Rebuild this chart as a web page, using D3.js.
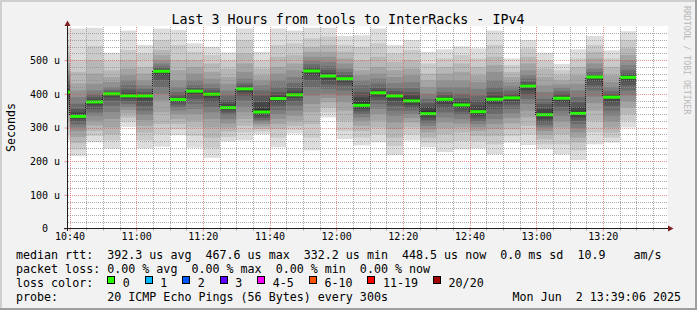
<!DOCTYPE html>
<html>
<head>
<meta charset="utf-8">
<script src="https://cdn.jsdelivr.net/npm/d3@7"></script>
<style>
html, body { margin: 0; padding: 0; background: #f2f2f2; }
svg { display: block; font-family: "DejaVu Sans Mono", monospace; }
.pre { white-space: pre; }
</style>
</head>
<body>
<svg id="chart" width="697" height="310"></svg>
<script>
// smokeping style graph, 3 hours, 20 pings every 5 min

var title = "Last 3 Hours from tools to InterRacks - IPv4";

// end time of each 5 minute slot
var slotEnds = ["10:40","10:45","10:50","10:55","11:00","11:05","11:10","11:15","11:20","11:25",
  "11:30","11:35","11:40","11:45","11:50","11:55","12:00","12:05","12:10","12:15",
  "12:20","12:25","12:30","12:35","12:40","12:45","12:50","12:55","13:00","13:05",
  "13:10","13:15","13:20","13:25","13:30"];

// median rtt per slot (microseconds)
var medians = [405,333,376,400,394,394,467,383,408,399,359,415,346,386,397,468,453,445,
  366,403,394,379,341,384,367,347,384,388,423,338,387,342,450,390,449];

// the 20 sorted pings per slot (microseconds)
var pings = [
  [262,280,300,320,340,355,370,385,395,402,408,415,425,440,455,470,490,515,545,596],
  [215,235,254,272,289,300,309,318,326,332,336,345,355,370,390,410,431,465,501,594],
  [256,275,290,306,320,335,345,355,366,373,378,383,390,398,410,430,460,500,542,596],
  [237,262,280,300,326,346,365,380,390,398,401,403,407,412,420,435,450,470,500,522],
  [302,318,330,342,352,362,370,378,386,392,397,402,412,425,440,455,475,500,530,588],
  [238,262,285,305,322,338,350,365,380,392,395,398,405,415,425,440,460,480,520,545],
  [243,280,310,345,380,400,420,440,455,466,468,471,476,482,490,500,515,530,560,594],
  [277,295,310,325,340,350,360,368,376,381,385,388,395,405,420,440,470,500,545,590],
  [240,275,300,320,340,355,370,385,398,406,409,412,418,425,440,460,480,500,525,550],
  [210,240,270,300,325,345,360,375,388,397,401,404,410,418,430,445,465,490,515,540],
  [258,272,288,300,312,325,337,345,352,357,362,370,380,395,410,430,450,475,500,523],
  [262,285,305,325,345,362,380,395,405,413,417,420,425,432,445,465,490,520,560,594],
  [280,288,296,303,310,316,322,328,335,343,355,375,395,410,425,440,455,475,500,525],
  [241,270,295,310,325,340,352,365,375,384,389,395,405,420,440,460,480,510,545,594],
  [282,293,305,320,335,350,365,378,388,395,400,408,418,432,450,470,490,515,550,588],
  [232,270,310,345,370,395,420,440,455,466,470,474,480,488,498,510,525,540,565,596],
  [330,345,360,375,388,400,415,428,440,450,456,462,470,482,495,510,525,545,570,596],
  [266,290,320,350,375,395,410,425,435,443,447,450,457,465,475,490,505,525,545,572],
  [247,270,290,305,320,330,340,348,355,362,375,390,405,425,440,455,470,500,540,574],
  [256,280,300,320,340,355,370,382,392,401,405,410,418,430,445,460,480,510,550,594],
  [218,245,270,295,315,335,350,365,380,392,396,400,408,418,432,450,470,495,520,545],
  [261,280,300,315,328,340,350,358,367,375,385,395,405,418,435,455,475,500,530,560],
  [241,255,270,285,295,305,314,322,330,338,350,360,372,385,400,420,440,460,490,525],
  [227,255,280,298,315,330,345,358,370,382,386,390,396,405,420,440,460,480,505,532],
  [235,260,285,300,312,325,337,347,357,365,370,377,387,400,420,440,465,490,515,541],
  [238,258,275,290,300,310,318,327,335,343,352,365,380,395,415,435,455,480,505,535],
  [220,250,275,295,310,325,340,355,370,381,387,393,405,420,440,465,485,510,545,588],
  [255,275,295,312,328,342,355,368,378,386,390,394,400,410,422,435,450,465,485,505],
  [248,280,305,330,350,370,385,398,410,421,425,428,435,445,455,470,490,510,535,560],
  [235,250,265,278,290,300,307,316,325,335,343,355,370,385,405,425,450,475,500,522],
  [220,250,280,300,318,335,350,362,375,385,390,394,400,408,418,428,440,455,470,489],
  [203,232,255,270,285,298,310,320,330,338,348,360,375,390,410,430,455,480,505,532],
  [250,285,320,350,372,392,410,425,438,448,452,454,458,465,475,490,505,525,545,572],
  [255,270,285,300,318,335,350,365,378,388,392,395,400,408,420,435,455,480,505,529],
  [300,320,340,360,378,395,410,425,438,447,451,455,460,470,485,500,515,535,560,586]
];

var yTicks = [0,100,200,300,400,500];
var xTicks = ["10:40","11:00","11:20","11:40","12:00","12:20","12:40","13:00","13:20"];

var lossLabels = ["0","1","2","3","4-5","6-10","11-19","20/20"];
var lossColors = ["#26ff00","#00b8ff","#0059ff","#5e00ff","#ff00ff","#ff5500","#ff0000","#a10000"];

var legendRtt  = "median rtt:  392.3 us avg  467.6 us max  332.2 us min  448.5 us now  0.0 ms sd  10.9    am/s";
var legendLoss = "packet loss: 0.00 % avg  0.00 % max  0.00 % min  0.00 % now";
var legendProbe = "probe:       20 ICMP Echo Pings (56 Bytes) every 300s";
var stamp = "Mon Jun  2 13:39:06 2025";

(function(){

var W = 697, H = 310;
var pLeft = 67.5, pRight = 667.5, pTop = 26.5, pBottom = 228.5;
var CW = 7.02; // legend char width

// rrdtool default colours
var GRID = "rgb(143,143,143)", GRID_A = 0.75;
var MGRID = "rgb(222,79,79)", MGRID_A = 0.6;
var ARROW = "rgb(128,31,31)", AXIS = "rgb(31,31,31)";

var svg = d3.select("#chart");
var parseT = d3.timeParse("%H:%M:%S");
var parseHM = d3.timeParse("%H:%M");
var t0 = parseT("10:39:24"), t1 = parseT("13:39:24");

var x = d3.scaleTime().domain([t0, t1]).range([pLeft, pRight]);
var y = d3.scaleLinear().domain([0, 600]).range([pBottom, pTop]);

// frame
svg.append("rect").attr("width", W).attr("height", H).attr("fill", "#f2f2f2");
svg.append("path").attr("d", "M0,1H697M1,0V310").attr("stroke", "#cfcfcf").attr("stroke-width", 2);
svg.append("path").attr("d", "M0,309H697M696,0V310").attr("stroke", "#9e9e9e").attr("stroke-width", 2);

svg.append("rect")
  .attr("x", 67).attr("y", 26).attr("width", 601).attr("height", 203)
  .attr("fill", "#ffffff");

svg.append("clipPath").attr("id", "plotclip")
  .append("rect").attr("x", 67).attr("y", 26).attr("width", 601).attr("height", 203);

var plot = svg.append("g").attr("clip-path", "url(#plotclip)");

// smoke: band k spans ping k .. ping 19-k, darker toward the middle
var slots = slotEnds.map(function(s, i){
  var e = parseHM(s);
  return {
    x0: Math.round(x(d3.timeMinute.offset(e, -5))),
    x1: Math.round(x(e)),
    p: pings[i],
    m: medians[i]
  };
});

var half = 10;
slots.forEach(function(s){
  for (var k = 0; k < half; k++){
    var g = Math.floor(190 / half * (half - (k + 1))) + 50;
    plot.append("rect")
      .attr("x", s.x0).attr("width", s.x1 - s.x0)
      .attr("y", y(s.p[19 - k]))
      .attr("height", y(s.p[k]) - y(s.p[19 - k]))
      .attr("fill", d3.rgb(g, g, g));
  }
});

// grid, dotted on whole pixels
var minorX = d3.timeMinute.every(5).range(t0, t1).filter(function(d){ return d.getMinutes() % 20 != 0; });
var majorX = xTicks.map(parseHM);
var minorY = d3.range(20, 600, 20).filter(function(v){ return v % 100 != 0; });
var majorY = yTicks.filter(function(v){ return v > 0; });

var px = function(d){ return Math.round(x(d)) + 0.5; };
var py = function(d){ return Math.round(y(d)) + 0.5; };

var grid = svg.append("g").attr("fill", "none")
  .attr("stroke-dasharray", "1,1").attr("shape-rendering", "crispEdges");
grid.selectAll(".gx").data(minorX).enter().append("line")
  .attr("x1", px).attr("x2", px)
  .attr("y1", 27).attr("y2", 228)
  .attr("stroke", GRID).attr("stroke-opacity", GRID_A);
grid.selectAll(".gy").data(minorY).enter().append("line")
  .attr("x1", 68).attr("x2", 668)
  .attr("y1", py).attr("y2", py)
  .attr("stroke", GRID).attr("stroke-opacity", GRID_A);
grid.selectAll(".mx").data(majorX).enter().append("line")
  .attr("x1", px).attr("x2", px)
  .attr("y1", 27).attr("y2", 228)
  .attr("stroke", MGRID).attr("stroke-opacity", MGRID_A);
grid.selectAll(".my").data(majorY).enter().append("line")
  .attr("x1", 68).attr("x2", 668)
  .attr("y1", py).attr("y2", py)
  .attr("stroke", MGRID).attr("stroke-opacity", MGRID_A);

// median: dark step connectors, then the loss coloured band
for (var i = 1; i < slots.length; i++){
  plot.append("line")
    .attr("x1", slots[i].x0 - 0.5).attr("x2", slots[i].x0 - 0.5)
    .attr("y1", Math.round(y(slots[i - 1].m))).attr("y2", Math.round(y(slots[i].m)))
    .attr("stroke", "#202020").attr("stroke-dasharray", "1,1");
}
slots.forEach(function(s){
  plot.append("rect")
    .attr("x", s.x0).attr("width", s.x1 - s.x0)
    .attr("y", y(s.m) - 1.5).attr("height", 3)
    .attr("fill", lossColors[0]);
});

// axes
var xAxis = svg.append("g")
  .attr("transform", "translate(0," + pBottom + ")")
  .call(d3.axisBottom(x).tickValues(majorX).tickFormat(d3.timeFormat("%H:%M"))
        .tickSize(3).tickPadding(1));
xAxis.select(".domain").remove();
xAxis.selectAll("line").attr("stroke", MGRID).attr("stroke-opacity", MGRID_A);
xAxis.selectAll("text").attr("font-family", "DejaVu Sans Mono").attr("font-size", 10).attr("fill", "#000");

svg.append("g").selectAll("line").data(minorX).enter().append("line")
  .attr("x1", px).attr("x2", px)
  .attr("y1", pBottom).attr("y2", pBottom + 2)
  .attr("stroke", GRID).attr("stroke-opacity", GRID_A);

var yAxis = svg.append("g")
  .attr("transform", "translate(" + pLeft + ",0)")
  .call(d3.axisLeft(y).tickValues(yTicks)
        .tickFormat(function(v){ return v == 0 ? "  0  " : v + " u"; })
        .tickSize(3));
yAxis.select(".domain").remove();
yAxis.selectAll("line").attr("stroke", MGRID).attr("stroke-opacity", MGRID_A);
yAxis.selectAll("text")
  .attr("class", "pre")
  .attr("x", 30 - pLeft)
  .attr("text-anchor", "start")
  .attr("font-family", "DejaVu Sans Mono").attr("font-size", 10).attr("fill", "#000");

svg.append("line").attr("x1", 64).attr("x2", 668).attr("y1", pBottom).attr("y2", pBottom)
  .attr("stroke", AXIS);
svg.append("line").attr("x1", pLeft).attr("x2", pLeft).attr("y1", 231).attr("y2", 26)
  .attr("stroke", AXIS);
svg.append("path").attr("d", "M668,225.5L673.5,228.5L668,231.5Z").attr("fill", ARROW);
svg.append("path").attr("d", "M64.5,26L67.5,20.5L70.5,26Z").attr("fill", ARROW);

// texts
svg.append("text").attr("x", 348).attr("y", 24).attr("text-anchor", "middle")
  .attr("font-size", 13.33).attr("fill", "#000").text(title);

svg.append("text").attr("transform", "translate(15,127.5) rotate(-90)")
  .attr("text-anchor", "middle").attr("font-size", 11.6).attr("fill", "#000")
  .text("Seconds");

svg.append("text").attr("transform", "translate(684,6) rotate(90)")
  .attr("font-size", 8.2).attr("fill", "#b8b8b8")
  .text("RRDTOOL / TOBI OETIKER");

var legend = svg.append("g").attr("font-size", 11.67).attr("fill", "#000");
var rows = [259.3, 273.2, 287, 300.8];

legend.append("text").attr("class", "pre").attr("x", 16).attr("y", rows[0]).text(legendRtt);
legend.append("text").attr("class", "pre").attr("x", 16).attr("y", rows[1]).text(legendLoss);
legend.append("text").attr("class", "pre").attr("x", 16).attr("y", rows[2]).text("loss color:");
legend.append("text").attr("class", "pre").attr("x", 16).attr("y", rows[3]).text(legendProbe);
legend.append("text").attr("class", "pre").attr("x", 681).attr("y", rows[3])
  .attr("text-anchor", "end").text(stamp);

var lx = 16 + 13 * CW;
lossLabels.forEach(function(lab, i){
  legend.append("rect")
    .attr("x", Math.round(lx) + 0.5).attr("y", 276.5)
    .attr("width", 7).attr("height", 7)
    .attr("fill", lossColors[i]).attr("stroke", "#000");
  legend.append("text").attr("x", lx + 15.5).attr("y", rows[2]).text(lab);
  lx = lx + 15.5 + lab.length * CW + 15;
});

})();
</script>
</body>
</html>
